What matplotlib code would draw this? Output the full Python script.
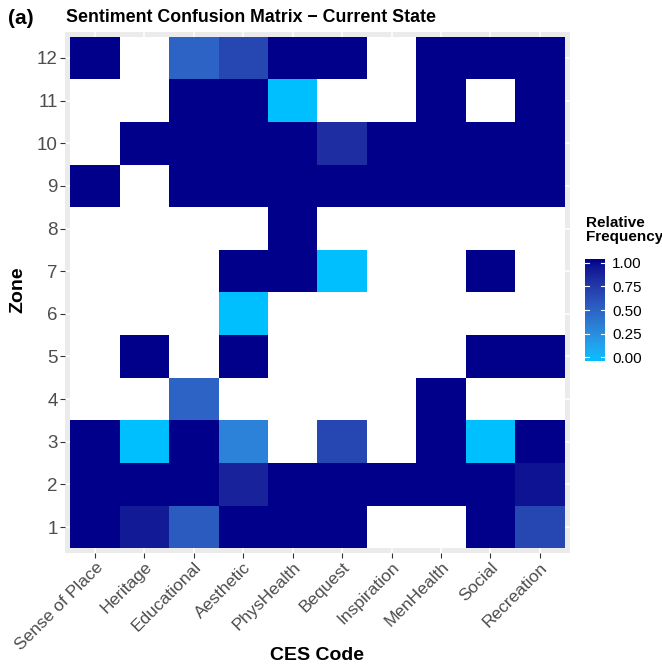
import numpy as np
import matplotlib.pyplot as plt
from matplotlib.colors import ListedColormap, Normalize

plt.rcParams["font.family"] = ["Liberation Sans", "DejaVu Sans"]

nan = np.nan

# CES categories (x) and zones (y)
ces_codes = ["Sense of Place", "Heritage", "Educational", "Aesthetic", "PhysHealth",
             "Bequest", "Inspiration", "MenHealth", "Social", "Recreation"]
zones = list(range(1, 13))

# Relative frequency per zone (rows = zone 1..12, cols = CES codes); nan = no data
rel_freq = [
    [1, 0.9, 0.55, 1, 1, 1, nan, nan, 1, 0.67],        # 1
    [1, 1, 1, 0.86, 1, 1, 1, 1, 1, 0.93],              # 2
    [1, 0, 1, 0.33, nan, 0.67, nan, 1, 0, 1],          # 3
    [nan, nan, 0.5, nan, nan, nan, nan, 1, nan, nan],  # 4
    [nan, 1, nan, 1, nan, nan, nan, nan, 1, 1],        # 5
    [nan, nan, nan, 0, nan, nan, nan, nan, nan, nan],  # 6
    [nan, nan, nan, 1, 1, 0, nan, nan, 1, nan],        # 7
    [nan, nan, nan, nan, 1, nan, nan, nan, nan, nan],  # 8
    [1, nan, 1, 1, 1, 1, 1, 1, 1, 1],                  # 9
    [nan, 1, 1, 1, 1, 0.8, 1, 1, 1, 1],                # 10
    [nan, nan, 1, 1, 0, nan, nan, 1, nan, 1],          # 11
    [1, nan, 0.5, 0.67, 1, 1, nan, 1, 1, 1],           # 12
]
legend_ticks = [0.0, 0.25, 0.5, 0.75, 1.0]


# gradient from deepskyblue to darkblue, interpolated in Lab space
def srgb_to_lab(rgb):
    c = np.asarray(rgb, float)
    lin = np.where(c <= 0.04045, c / 12.92, ((c + 0.055) / 1.055) ** 2.4)
    m = np.array([[0.4124, 0.3576, 0.1805],
                  [0.2126, 0.7152, 0.0722],
                  [0.0193, 0.1192, 0.9505]])
    xyz = m @ lin / np.array([0.95047, 1.0, 1.08883])
    f = np.where(xyz > 0.008856, np.cbrt(xyz), 7.787 * xyz + 16 / 116)
    return np.array([116 * f[1] - 16, 500 * (f[0] - f[1]), 200 * (f[1] - f[2])])


def lab_to_srgb(lab):
    L, a, b = lab
    fy = (L + 16) / 116
    f = np.array([fy + a / 500, fy, fy - b / 200])
    xyz = np.where(f ** 3 > 0.008856, f ** 3, (f - 16 / 116) / 7.787)
    xyz = xyz * np.array([0.95047, 1.0, 1.08883])
    m = np.array([[3.2406, -1.5372, -0.4986],
                  [-0.9689, 1.8758, 0.0415],
                  [0.0557, -0.2040, 1.0570]])
    lin = np.clip(m @ xyz, 0, 1)
    c = np.where(lin <= 0.0031308, 12.92 * lin, 1.055 * lin ** (1 / 2.4) - 0.055)
    return np.clip(c, 0, 1)


low = srgb_to_lab([0 / 255, 191 / 255, 255 / 255])
high = srgb_to_lab([0 / 255, 0 / 255, 139 / 255])
cols = [lab_to_srgb(low + t * (high - low)) for t in np.linspace(0, 1, 256)]
cmap = ListedColormap(cols)
cmap.set_bad("white")
norm = Normalize(0, 1)

fig = plt.figure(figsize=(6.62, 6.72), dpi=100)
ax = fig.add_axes([0.0988, 0.1777, 0.7616, 0.7741])
ax.set_facecolor("#EBEBEB")

data = np.ma.masked_invalid(np.array(rel_freq, float))
xe = np.arange(len(ces_codes) + 1) + 0.5
ye = np.arange(len(zones) + 1) + 0.5
ax.pcolormesh(xe, ye, data, cmap=cmap, norm=norm, zorder=2)

ax.set_xlim(0.4, len(ces_codes) + 0.6)
ax.set_ylim(0.4, len(zones) + 0.6)
ax.set_xticks(np.arange(1, len(ces_codes) + 1))
ax.set_xticklabels(ces_codes, rotation=45, ha="right", va="top",
                   rotation_mode="anchor", fontsize=12.5, color="#4D4D4D")
ax.set_yticks(zones)
ax.set_yticklabels([str(z) for z in zones], fontsize=13.5, color="#4D4D4D")
ax.tick_params(length=3.5, width=0.8, color="#333333")
ax.tick_params(axis="x", pad=1.5)
ax.tick_params(axis="y", pad=2)
ax.grid(True, color="white", linewidth=1.1, zorder=1)
ax.set_axisbelow(True)
for s in ax.spines.values():
    s.set_visible(False)

fig.text(0.479, 1 - 655 / 672, "CES Code", fontsize=14, fontweight="bold",
         ha="center", va="center")
fig.text(18 / 662, 1 - 290 / 672, "Zone", fontsize=14, fontweight="bold",
         ha="center", va="center", rotation=90)
fig.text(0.099, 0.974, "Sentiment Confusion Matrix \u2212 Current State",
         fontsize=12.8, fontweight="bold", va="center", ha="left")
fig.text(0.012, 0.972, "(a)", fontsize=15, fontweight="bold", va="center", ha="left")

# colour bar legend
cax = fig.add_axes([585 / 662, (672 - 361) / 672, 20 / 662, 102 / 672])
grad = np.linspace(0, 1, 300).reshape(-1, 1)
cax.imshow(grad, cmap=cmap, norm=norm, aspect="auto", origin="lower",
           extent=[0, 1, -0.04, 1.04])
cax.set_xlim(0, 1)
cax.set_ylim(-0.04, 1.04)
cax.set_xticks([])
cax.yaxis.tick_right()
cax.set_yticks(legend_ticks)
cax.set_yticklabels([f"{t:.2f}" for t in legend_ticks], fontsize=11)
cax.tick_params(axis="y", length=0, pad=5)
for t in legend_ticks:
    cax.plot([0, 0.2], [t, t], color="white", lw=0.8)
    cax.plot([0.8, 1], [t, t], color="white", lw=0.8)
for s in cax.spines.values():
    s.set_visible(False)
fig.text(586 / 662, (672 - 230) / 672, "Relative\nFrequency", fontsize=11,
         fontweight="bold", va="center", ha="left", linespacing=1.0)

fig.savefig("out.png", dpi=100)
